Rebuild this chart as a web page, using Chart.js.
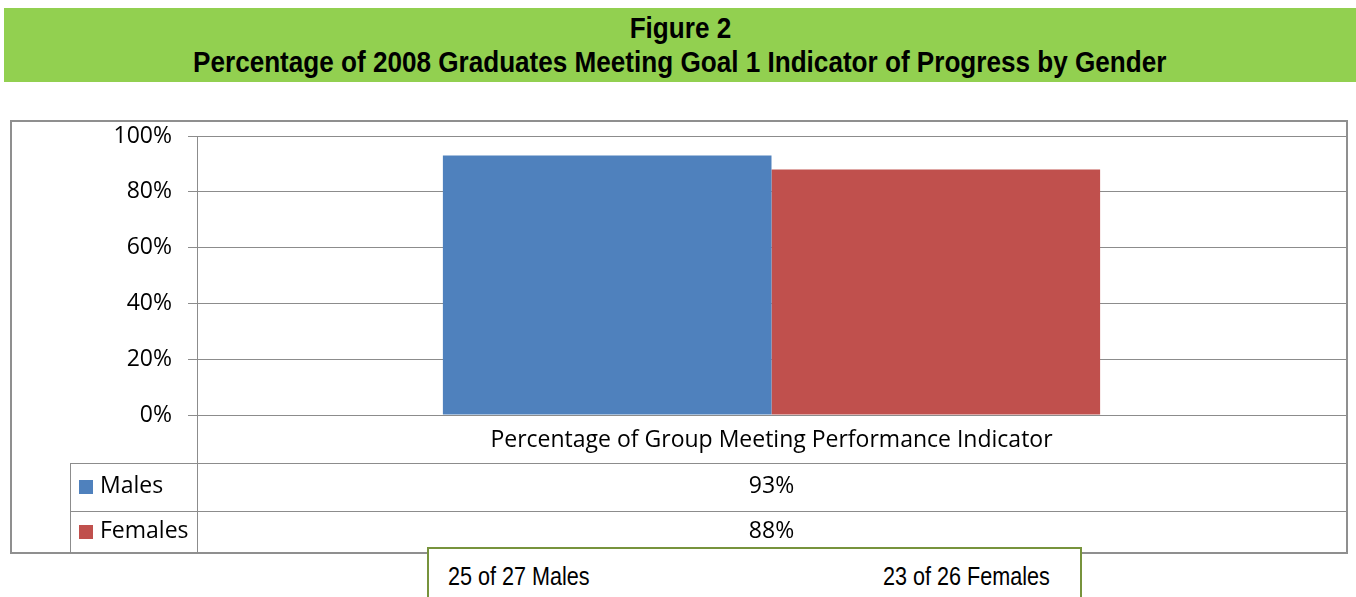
<!DOCTYPE html>
<html>
<head>
<meta charset="utf-8">
<title>Figure 2</title>
<script src="https://cdn.jsdelivr.net/npm/chart.js@4.4.1/dist/chart.umd.min.js"></script>
<style>
  html, body { margin: 0; padding: 0; background: #fff; }
  body { position: relative; width: 1356px; height: 597px; overflow: hidden; }
  .narrow {
    display: inline-block; white-space: nowrap;
    font-family: 'Liberation Sans', Arial, sans-serif;
    transform: scaleX(0.82);
  }
  .banner {
    position: absolute; left: 4px; top: 8px; width: 1352px; height: 74px;
    padding-top: 3px; box-sizing: border-box;
    background: #92d050; color: #000; text-align: center;
    font-weight: bold; font-size: 29px; line-height: 34px;
  }
  .banner .narrow { transform: scaleX(0.9); transform-origin: 50% 50%; }
  .frame {
    position: absolute; left: 10px; top: 120px; width: 1338px; height: 434px;
    box-sizing: border-box; border: 2px solid #8f8f8f;
  }
  #chart { position: absolute; left: 0; top: 0; z-index: 1; }
  .counts {
    position: absolute; left: 427px; top: 547px; width: 655px; height: 70px;
    box-sizing: border-box; border: 2px solid #77933c; background: #fff; z-index: 2;
    font-size: 26px; color: #000;
  }
  .counts .narrow { position: absolute; top: 12px; line-height: 30px; transform: scaleX(0.83); transform-origin: 0 50%; }
</style>
</head>
<body>
<div class="banner">
  <div><span class="narrow" id="figLabel"></span></div>
  <div><span class="narrow" id="figTitle"></span></div>
</div>
<div class="frame"></div>
<canvas id="chart" width="1356" height="597"></canvas>
<div class="counts" id="counts"></div>

<script>
// Chart data
const figureLabel = 'Figure 2';
const figureTitle = 'Percentage of 2008 Graduates Meeting Goal 1 Indicator of Progress by Gender';
const categories = ['Percentage of Group Meeting Performance Indicator'];
const seriesNames = ['Males', 'Females'];
const malesValues = [93];
const femalesValues = [88];
const yTicks = [0, 20, 40, 60, 80, 100];
const groupMet = [25, 23];
const groupTotal = [27, 26];

const seriesColors = ['#4f81bd', '#c0504d'];
const gridColor = '#8c8c8c';
const textFont = { family: "'Open Sans', 'Noto Sans', sans-serif", size: 23 };

document.getElementById('figLabel').textContent = figureLabel;
document.getElementById('figTitle').textContent = figureTitle;

// Count box under the chart
const countsBox = document.getElementById('counts');
const countOffsets = [19, 454];
seriesNames.forEach((name, i) => {
  const span = document.createElement('span');
  span.className = 'narrow';
  span.textContent = groupMet[i] + ' of ' + groupTotal[i] + ' ' + name;
  span.style.left = countOffsets[i] + 'px';
  countsBox.appendChild(span);
});

// Draws the data table (category row + legend/value rows) below the plot
const dataTablePlugin = {
  id: 'dataTable',
  afterDraw(chart) {
    const { ctx, chartArea, scales } = chart;
    const tableLeft = 70;
    const tableBottom = 553;
    const catRowH = 48;
    const rowH = 47.5;
    const keyRight = chartArea.left;
    const right = chartArea.right;
    const top = chartArea.bottom;

    ctx.save();
    ctx.strokeStyle = gridColor;
    ctx.lineWidth = 1;
    ctx.font = textFont.size + 'px ' + textFont.family;
    ctx.fillStyle = '#000';
    ctx.textBaseline = 'middle';

    // y axis line continues down through the table
    ctx.beginPath();
    ctx.moveTo(Math.round(keyRight) + 0.5, top);
    ctx.lineTo(Math.round(keyRight) + 0.5, tableBottom);
    ctx.stroke();

    // category labels
    ctx.textAlign = 'center';
    categories.forEach((cat, i) => {
      const x = scales.x.getPixelForValue(i);
      ctx.fillText(cat, x, top + catRowH / 2 + 1);
    });

    // series rows
    const datasets = chart.data.datasets;
    const rowsTop = top + catRowH;
    ctx.beginPath();
    ctx.moveTo(tableLeft + 0.5, Math.round(rowsTop) + 0.5);
    ctx.lineTo(tableLeft + 0.5, tableBottom);
    ctx.stroke();

    datasets.forEach((ds, d) => {
      const y0 = rowsTop + d * rowH;
      const y1 = Math.min(y0 + rowH, tableBottom);
      const yc = (y0 + y1) / 2;

      ctx.beginPath();
      ctx.moveTo(tableLeft, Math.round(y0) + 0.5);
      ctx.lineTo(right, Math.round(y0) + 0.5);
      ctx.stroke();

      // legend key
      ctx.fillStyle = ds.backgroundColor;
      ctx.fillRect(tableLeft + 9, Math.round(yc - 7), 14, 14);
      ctx.fillStyle = '#000';
      ctx.textAlign = 'left';
      ctx.fillText(ds.label, tableLeft + 30, yc);

      // values
      ctx.textAlign = 'center';
      ds.data.forEach((v, i) => {
        const x = scales.x.getPixelForValue(i);
        ctx.fillText(v + '%', x, yc);
      });
    });
    ctx.restore();
  }
};

new Chart(document.getElementById('chart'), {
  type: 'bar',
  data: {
    labels: categories,
    datasets: [
      { label: seriesNames[0], data: malesValues, backgroundColor: seriesColors[0] },
      { label: seriesNames[1], data: femalesValues, backgroundColor: seriesColors[1] }
    ]
  },
  options: {
    responsive: false,
    animation: false,
    devicePixelRatio: 1,
    layout: { padding: { left: 0, top: 136, right: 10, bottom: 182 } },
    datasets: { bar: { categoryPercentage: 0.572, barPercentage: 1, borderWidth: 0 } },
    scales: {
      x: { display: false },
      y: {
        min: 0,
        max: 100,
        afterBuildTicks: scale => { scale.ticks = yTicks.map(v => ({ value: v })); },
        afterFit: scale => { scale.width = 197; },
        ticks: {
          color: '#000',
          font: textFont,
          padding: 16,
          callback: v => v + '%'
        },
        grid: { color: gridColor, lineWidth: 1, tickLength: 9 },
        border: { color: gridColor }
      }
    },
    plugins: {
      legend: { display: false },
      tooltip: { enabled: false }
    }
  },
  plugins: [dataTablePlugin]
});
</script>
</body>
</html>
